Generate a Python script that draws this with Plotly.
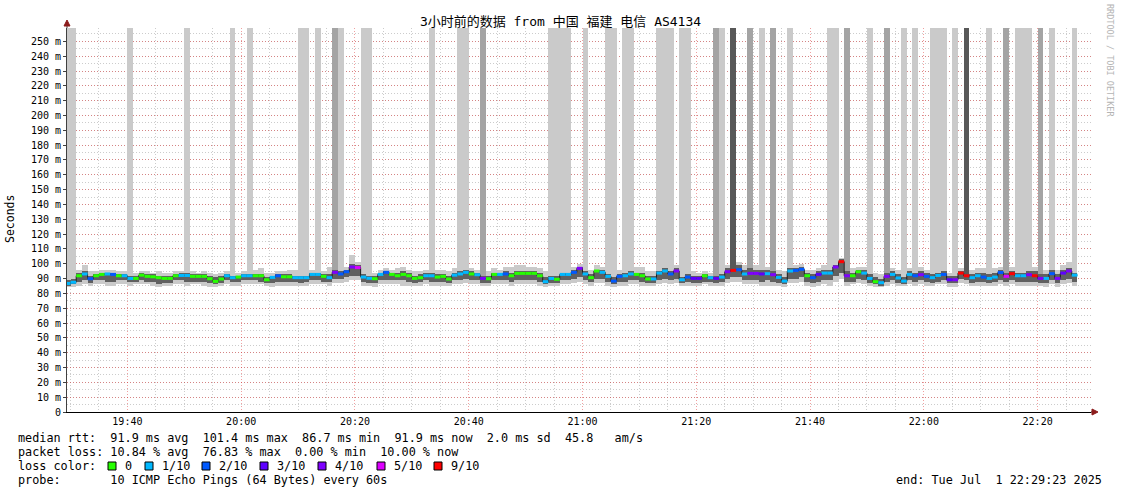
import pandas as pd
import plotly.graph_objects as go

TITLE = "3小时前的数据 from 中国 福建 电信 AS4134"
START = "2025-07-01 19:29:00"          # first 60 s step shown
X_RANGE = ["2025-07-01 19:29:23", "2025-07-01 22:29:23"]
Y_MAX = 259

median_ms = [
    86.7, 87.5, 91.9, 93.1, 89.9, 91.9, 92.8, 93.1, 92.8, 91.9,
    91.9, 90.1, 90.1, 92.3, 91.5, 91.2, 90.6, 90.1, 90.1, 91.9,
    92.1, 92.1, 91.5, 91.5, 91.5, 89.9, 88.1, 89.7, 91.9, 90.6,
    91.0, 91.9, 91.9, 91.9, 91.9, 89.2, 90.8, 91.9, 91.2, 91.2,
    90.6, 90.6, 90.6, 92.8, 92.8, 91.5, 90.6, 94.2, 93.1, 94.6,
    97.8, 97.4, 91.0, 90.2, 89.9, 92.8, 94.2, 92.8, 91.9, 92.8,
    91.9, 90.1, 90.6, 91.9, 91.9, 91.0, 91.5, 89.7, 92.3, 93.1,
    94.2, 93.1, 92.6, 90.1, 89.9, 92.8, 92.8, 93.1, 91.9, 93.5,
    93.5, 93.5, 93.5, 91.9, 87.9, 90.1, 89.5, 92.8, 92.8, 94.2,
    96.9, 93.1, 90.6, 95.1, 94.2, 91.5, 88.3, 91.5, 91.9, 93.1,
    92.8, 91.9, 89.7, 89.7, 93.7, 95.1, 93.1, 95.1, 89.2, 91.0,
    90.1, 90.1, 91.9, 90.6, 90.1, 91.0, 94.6, 95.5, 96.0, 93.1,
    93.5, 93.5, 93.1, 93.3, 92.6, 90.8, 88.3, 95.1, 95.5, 96.2,
    91.9, 90.6, 92.8, 93.7, 93.7, 97.8, 101.4, 91.9, 91.9, 94.6,
    93.7, 90.1, 87.9, 87.2, 91.5, 92.8, 90.4, 88.3, 92.8, 91.9,
    92.6, 91.5, 90.6, 92.1, 92.8, 89.2, 89.2, 93.7, 91.9, 90.6,
    91.9, 91.0, 90.1, 91.0, 94.1, 91.5, 93.3, 91.9, 91.9, 92.6,
    91.9, 90.1, 90.1, 93.3, 90.1, 93.7, 95.1, 92.3,
]

loss_of_10 = [
    1, 1, 0, 1, 2, 0, 0, 1, 2, 0,
    1, 1, 0, 0, 0, 0, 0, 0, 0, 0,
    1, 1, 0, 0, 0, 0, 0, 0, 1, 1,
    0, 1, 1, 0, 0, 0, 1, 2, 0, 0,
    1, 1, 1, 1, 1, 0, 1, 4, 2, 2,
    4, 5, 1, 1, 0, 1, 2, 0, 0, 0,
    0, 0, 0, 1, 1, 0, 0, 0, 1, 1,
    1, 0, 1, 4, 0, 0, 1, 2, 0, 0,
    0, 0, 0, 0, 1, 1, 0, 1, 1, 2,
    4, 1, 0, 0, 1, 1, 2, 2, 1, 1,
    0, 0, 0, 1, 1, 1, 2, 4, 1, 2,
    3, 3, 0, 1, 3, 1, 4, 9, 2, 1,
    4, 4, 3, 1, 4, 1, 1, 1, 2, 2,
    0, 2, 3, 1, 1, 4, 9, 4, 0, 0,
    1, 1, 0, 1, 4, 1, 1, 1, 1, 2,
    4, 2, 1, 1, 2, 3, 4, 9, 9, 1,
    1, 2, 1, 1, 2, 5, 9, 1, 1, 4,
    9, 4, 1, 2, 4, 3, 4, 1,
]

# pings beyond the top of the graph: 0 none, 1 light, 2 medium, 3 dark
spike_level = [
    1, 1, 0, 0, 0, 0, 0, 0, 0, 0,
    0, 1, 0, 0, 0, 0, 0, 0, 0, 0,
    0, 1, 0, 0, 0, 0, 0, 0, 0, 1,
    0, 0, 1, 0, 0, 0, 0, 0, 0, 0,
    0, 1, 1, 0, 1, 0, 0, 2, 1, 0,
    0, 0, 1, 1, 0, 0, 0, 0, 0, 0,
    0, 0, 0, 0, 1, 0, 0, 0, 0, 1,
    1, 0, 0, 2, 0, 0, 0, 0, 0, 0,
    0, 0, 0, 0, 0, 1, 1, 1, 1, 0,
    0, 1, 0, 0, 0, 1, 1, 0, 1, 1,
    0, 0, 0, 0, 1, 1, 1, 0, 1, 1,
    0, 0, 0, 0, 2, 1, 0, 3, 0, 0,
    2, 0, 1, 0, 2, 0, 0, 1, 0, 0,
    0, 0, 0, 0, 1, 1, 0, 2, 0, 0,
    0, 1, 0, 0, 2, 0, 0, 1, 0, 1,
    0, 0, 1, 1, 1, 0, 1, 0, 3, 0,
    0, 0, 1, 0, 0, 2, 0, 1, 1, 1,
    0, 2, 0, 1, 0, 0, 0, 1,
]

smoke_lo = [
    84, 84, 85, 86, 85, 86, 86, 85, 85, 86,
    86, 85, 86, 86, 86, 85, 84, 85, 85, 86,
    86, 85, 86, 86, 85, 84, 84, 85, 86, 85,
    85, 86, 86, 86, 86, 85, 84, 85, 85, 85,
    85, 85, 85, 86, 86, 86, 85, 87, 87, 88,
    89, 89, 85, 85, 84, 86, 86, 86, 86, 85,
    85, 85, 85, 86, 85, 85, 85, 85, 86, 86,
    87, 86, 86, 85, 85, 86, 86, 86, 85, 86,
    86, 86, 86, 85, 84, 85, 85, 86, 86, 87,
    88, 86, 85, 87, 87, 85, 84, 85, 85, 86,
    86, 85, 85, 85, 86, 87, 86, 87, 85, 85,
    85, 85, 86, 85, 85, 85, 87, 88, 88, 86,
    86, 86, 85, 85, 85, 85, 84, 87, 87, 88,
    85, 84, 85, 86, 85, 88, 90, 85, 86, 87,
    86, 85, 84, 84, 85, 86, 85, 85, 86, 85,
    86, 85, 85, 86, 86, 84, 84, 87, 86, 85,
    85, 85, 85, 85, 86, 85, 86, 85, 85, 85,
    85, 85, 84, 86, 84, 86, 87, 85,
]

core_lo = [
    85, 86, 88, 89, 87, 89, 89, 88, 88, 89,
    89, 88, 88, 89, 88, 88, 86, 87, 87, 89,
    89, 88, 88, 88, 88, 87, 86, 87, 89, 88,
    88, 89, 89, 89, 88, 87, 87, 88, 88, 88,
    88, 87, 88, 89, 89, 88, 88, 90, 90, 91,
    92, 92, 88, 87, 87, 89, 89, 89, 89, 89,
    88, 87, 88, 89, 88, 88, 88, 87, 89, 89,
    90, 89, 89, 87, 87, 89, 89, 89, 88, 89,
    89, 89, 89, 88, 86, 87, 87, 89, 89, 90,
    91, 89, 88, 90, 90, 88, 86, 88, 88, 89,
    89, 88, 87, 87, 89, 90, 89, 90, 87, 88,
    87, 87, 88, 88, 87, 88, 90, 91, 91, 89,
    89, 89, 88, 89, 88, 87, 86, 90, 90, 91,
    88, 87, 88, 89, 89, 92, 94, 88, 88, 90,
    89, 87, 86, 85, 88, 89, 87, 86, 89, 88,
    89, 88, 87, 88, 89, 87, 87, 90, 89, 87,
    88, 88, 87, 88, 89, 88, 89, 88, 88, 88,
    88, 87, 87, 89, 87, 89, 90, 88,
]

core_hi = [
    89, 90, 94, 95, 92, 93, 94, 94, 94, 93,
    93, 92, 92, 94, 93, 93, 92, 92, 92, 93,
    94, 94, 93, 93, 93, 92, 91, 92, 93, 92,
    92, 93, 93, 93, 93, 91, 92, 93, 93, 93,
    92, 92, 92, 94, 94, 93, 93, 96, 95, 96,
    100, 99, 93, 92, 92, 94, 95, 94, 94, 95,
    94, 92, 93, 94, 94, 93, 93, 92, 94, 95,
    96, 95, 94, 92, 92, 94, 94, 95, 94, 95,
    95, 95, 95, 94, 91, 92, 92, 94, 94, 96,
    98, 95, 93, 96, 96, 93, 91, 93, 94, 95,
    94, 94, 92, 92, 95, 97, 95, 97, 91, 93,
    92, 92, 93, 92, 92, 93, 97, 98, 99, 96,
    97, 96, 96, 96, 95, 93, 91, 97, 97, 98,
    94, 93, 95, 96, 96, 99, 103, 95, 94, 96,
    96, 93, 91, 90, 94, 95, 93, 91, 95, 94,
    95, 94, 93, 94, 95, 92, 92, 95, 93, 93,
    94, 94, 93, 94, 96, 94, 95, 94, 94, 95,
    95, 93, 93, 96, 93, 96, 97, 94,
]

smoke_hi = [
    91, 92, 96, 99, 95, 95, 96, 96, 96, 95,
    95, 94, 94, 95, 95, 94, 95, 94, 94, 95,
    95, 96, 95, 94, 95, 94, 93, 94, 95, 94,
    94, 95, 95, 96, 97, 94, 94, 95, 95, 96,
    96, 95, 95, 96, 96, 95, 98, 98, 97, 98,
    106, 101, 95, 94, 94, 96, 97, 96, 97, 98,
    96, 95, 95, 96, 95, 96, 96, 95, 97, 97,
    98, 97, 96, 94, 95, 97, 96, 98, 98, 99,
    99, 98, 98, 97, 95, 94, 95, 97, 97, 98,
    100, 97, 96, 99, 98, 96, 94, 96, 96, 97,
    98, 98, 95, 95, 97, 98, 97, 99, 94, 95,
    95, 94, 95, 94, 94, 95, 99, 100, 101, 99,
    100, 99, 99, 98, 98, 96, 95, 99, 99, 100,
    96, 96, 97, 99, 98, 101, 104, 98, 97, 98,
    98, 96, 94, 93, 97, 97, 96, 95, 97, 97,
    98, 96, 96, 97, 97, 94, 94, 97, 95, 96,
    97, 97, 96, 97, 98, 97, 98, 97, 97, 98,
    98, 96, 96, 98, 96, 99, 101, 96,
]

y_tick_values = list(range(0, 251, 10))
y_tick_labels = ["0"] + [f"{v} m" for v in range(10, 251, 10)]

loss_legend_labels = ["0", "1/10", "2/10", "3/10", "4/10", "5/10", "9/10"]
loss_legend_codes = [0, 1, 2, 3, 4, 5, 9]
loss_legend_colors = ["#26ff00", "#00b8ff", "#0059ff", "#5e00ff", "#7e00ff", "#dd00ff", "#ff0000"]

stats_rtt = "median rtt:  91.9 ms avg  101.4 ms max  86.7 ms min  91.9 ms now  2.0 ms sd  45.8   am/s"
stats_loss = "packet loss: 10.84 % avg  76.83 % max  0.00 % min  10.00 % now"
probe_text = "probe:       10 ICMP Echo Pings (64 Bytes) every 60s"
end_text = "end: Tue Jul  1 22:29:23 2025"
watermark = "RRDTOOL / TOBI OETIKER"

# ---------------------------------------------------------------------------
FONT = "DejaVu Sans Mono, Noto Sans CJK SC, monospace"
GRID = "rgba(143,143,143,0.46)"
MGRID = "rgba(222,48,48,0.46)"
TOP = 400  # beyond the axis, clipped
W_MS = 60_000

starts = pd.date_range(START, periods=len(median_ms), freq="min")
centers = starts + pd.Timedelta(seconds=30)
ends = starts + pd.Timedelta(minutes=1)
color_of = dict(zip(loss_legend_codes, loss_legend_colors))

fig = go.Figure()

# outer smoke (lightest), extended to the top where pings went off-scale
outer_top = [TOP if s >= 1 else h for s, h in zip(spike_level, smoke_hi)]
fig.add_trace(go.Bar(x=centers, base=smoke_lo,
                     y=[t - b for t, b in zip(outer_top, smoke_lo)],
                     width=W_MS, marker=dict(color="#cacaca", line_width=0)))

idx2 = [i for i, s in enumerate(spike_level) if s >= 2]
fig.add_trace(go.Bar(x=[centers[i] for i in idx2], base=[core_lo[i] for i in idx2],
                     y=[TOP - core_lo[i] for i in idx2],
                     width=W_MS, marker=dict(color="#a4a4a4", line_width=0)))

# core smoke
fig.add_trace(go.Bar(x=centers, base=core_lo,
                     y=[h - l for h, l in zip(core_hi, core_lo)],
                     width=W_MS, marker=dict(color="#606060", line_width=0)))

idx3 = [i for i, s in enumerate(spike_level) if s >= 3]
fig.add_trace(go.Bar(x=[centers[i] for i in idx3], base=[median_ms[i] for i in idx3],
                     y=[TOP - median_ms[i] for i in idx3],
                     width=W_MS, marker=dict(color="#585858", line_width=0)))

# median step line
fig.add_trace(go.Scatter(x=list(starts) + [ends[-1]], y=median_ms + [median_ms[-1]],
                         mode="lines", line=dict(color="#202020", width=1, shape="hv")))

# coloured median segments by loss
for code in loss_legend_codes:
    xs, ys = [], []
    for i, (m, l) in enumerate(zip(median_ms, loss_of_10)):
        if l == code:
            xs += [starts[i], ends[i], None]
            ys += [m, m, None]
    if xs:
        fig.add_trace(go.Scatter(x=xs, y=ys, mode="lines",
                                 line=dict(color=color_of[code], width=3)))


def px(x):
    return (x - 67) / 1024


def py(y):
    return (412 - y) / 384


def nb(s):
    return s.replace(" ", "\u00a0")


ann = []
txt_font = dict(family=FONT, size=11.8, color="black")
for text, y in [(stats_rtt, 438), (stats_loss, 452), ("loss color:", 466), (probe_text, 480)]:
    ann.append(dict(text=nb(text), x=px(16), y=py(y), xref="paper", yref="paper",
                    xanchor="left", yanchor="middle", showarrow=False, font=txt_font))
ann.append(dict(text=nb(end_text), x=px(1104), y=py(480), xref="paper", yref="paper",
                xanchor="right", yanchor="middle", showarrow=False, font=txt_font))

shapes = []
label_x = [123, 160, 217, 275, 333, 392, 449]
for lab, col, lx in zip(loss_legend_labels, loss_legend_colors, label_x):
    ann.append(dict(text=lab, x=px(lx), y=py(466), xref="paper", yref="paper",
                    xanchor="left", yanchor="middle", showarrow=False, font=txt_font))
    shapes.append(dict(type="rect", xref="paper", yref="paper",
                       x0=px(lx - 15), x1=px(lx - 7), y0=py(470), y1=py(462),
                       fillcolor=col, line=dict(color="black", width=1)))

ann.append(dict(text="Seconds", x=px(10), y=py(219), xref="paper", yref="paper",
                textangle=-90, xanchor="center", yanchor="middle", showarrow=False,
                font=dict(family=FONT, size=11.5, color="black")))
ann.append(dict(text=nb(watermark), x=px(1110), y=py(60), xref="paper", yref="paper",
                textangle=90, xanchor="center", yanchor="middle", showarrow=False,
                font=dict(family=FONT, size=8.5, color="#b4b4b4")))

ARROW = "#8c1c1c"
shapes += [
    dict(type="line", xref="paper", yref="paper", x0=0, x1=0, y0=1, y1=py(23),
         line=dict(color="#404040", width=1)),
    dict(type="path", xref="paper", yref="paper",
         path=f"M {px(67)} {py(20)} L {px(64)} {py(26)} L {px(70)} {py(26)} Z",
         fillcolor=ARROW, line=dict(color=ARROW, width=1)),
    dict(type="line", xref="paper", yref="paper", x0=1, x1=px(1094), y0=0, y1=0,
         line=dict(color="black", width=1)),
    dict(type="path", xref="paper", yref="paper",
         path=f"M {px(1098)} {py(412)} L {px(1092)} {py(409)} L {px(1092)} {py(415)} Z",
         fillcolor=ARROW, line=dict(color=ARROW, width=1)),
]

fig.update_layout(
    width=1121, height=494,
    margin=dict(l=67, r=30, t=28, b=82, pad=0),
    paper_bgcolor="white", plot_bgcolor="white",
    showlegend=False, hovermode=False, barmode="overlay", bargap=0,
    title=dict(text=TITLE, x=0.5, xanchor="center", xref="container",
               y=1 - 21 / 494, yanchor="middle", yref="container",
               font=dict(family=FONT, size=13, color="black")),
    xaxis=dict(type="date", range=X_RANGE, tickformat="%H:%M",
               tick0="2025-07-01 19:40:00", dtick=20 * 60 * 1000,
               showgrid=True, gridcolor=MGRID, griddash="1px,2px", gridwidth=1,
               minor=dict(tickmode="linear", tick0="2025-07-01 19:40:00", dtick=5 * 60 * 1000,
                          showgrid=True, gridcolor=GRID, griddash="1px,2px", gridwidth=1),
               showline=True, linecolor="black", linewidth=1, ticks="", zeroline=False,
               tickfont=dict(family=FONT, size=10, color="black")),
    yaxis=dict(range=[0, Y_MAX], tickmode="array", tickvals=y_tick_values, ticktext=y_tick_labels,
               showgrid=True, gridcolor=MGRID, griddash="1px,2px", gridwidth=1,
               minor=dict(tickmode="linear", tick0=0, dtick=5, showgrid=True,
                          gridcolor=GRID, griddash="1px,2px", gridwidth=1),
               showline=True, linecolor="#404040", linewidth=1,
               ticks="outside", ticklen=3, tickcolor="#404040", zeroline=False,
               tickfont=dict(family=FONT, size=10, color="black")),
    annotations=ann, shapes=shapes,
)

fig.write_html("out.html", config={"displayModeBar": False, "staticPlot": True},
               post_script="document.body.style.margin='0';document.body.style.overflow='hidden';")
